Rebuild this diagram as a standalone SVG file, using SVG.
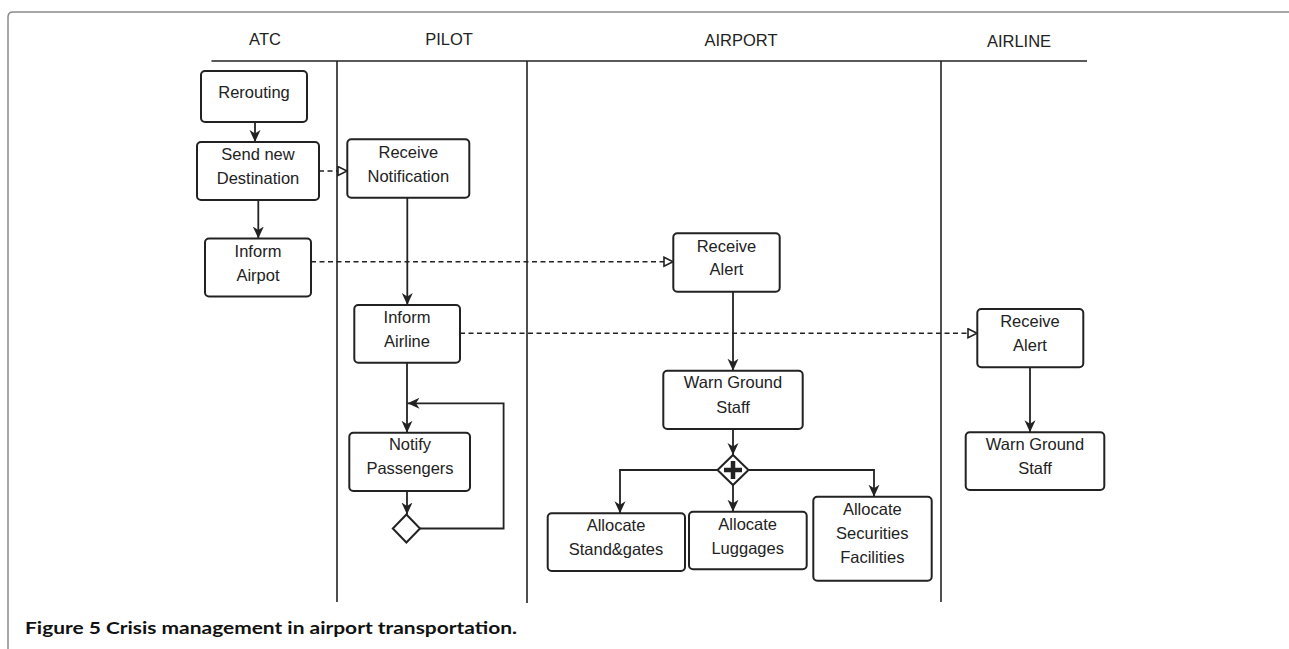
<svg xmlns="http://www.w3.org/2000/svg" width="1289" height="649" viewBox="0 0 1289 649">
<style>
  .frame{fill:none;stroke:#8a8a8a;stroke-width:1.5}
  .lane{fill:none;stroke:#222;stroke-width:1.6}
  .lbl{font-family:"Liberation Sans",Arial,sans-serif;font-size:16.5px;fill:#222;text-anchor:middle}
  .box{fill:#fff;stroke:#222;stroke-width:2}
  .txt{font-family:"Liberation Sans",Arial,sans-serif;font-size:16.5px;fill:#222;text-anchor:middle}
  .flow{fill:none;stroke:#222;stroke-width:1.8}
  .msg{fill:none;stroke:#222;stroke-width:1.6;stroke-dasharray:5 3.5}
  .cap{font-family:Lato,"Open Sans",sans-serif;font-size:17.5px;font-weight:bold;fill:#111}
</style>
<defs>
  <marker id="solid" markerUnits="userSpaceOnUse" markerWidth="14" markerHeight="14" refX="12" refY="6" orient="auto">
    <path d="M0,0.5 L12,6 L0,11.5 L3.5,6 z" fill="#222"/>
  </marker>
  <marker id="open" markerUnits="userSpaceOnUse" markerWidth="12" markerHeight="12" refX="10" refY="5.5" orient="auto">
    <path d="M1,1 L10,5.5 L1,10 z" fill="#fff" stroke="#222" stroke-width="1.6"/>
  </marker>
</defs>
<rect width="1289" height="649" fill="#fff"/>
<path class="frame" d="M8,649 V17 Q8,12 13,12 H1289"/>

<g id="lanes">
  <line class="lane" x1="211.5" y1="61" x2="1087" y2="61"/>
  <line class="lane" x1="337" y1="61" x2="337" y2="602"/>
  <line class="lane" x1="527" y1="61" x2="527" y2="603"/>
  <line class="lane" x1="941" y1="61" x2="941" y2="602"/>
  <text class="lbl" x="265" y="45">ATC</text>
  <text class="lbl" x="449" y="45">PILOT</text>
  <text class="lbl" x="741" y="45.5">AIRPORT</text>
  <text class="lbl" x="1019" y="46.5">AIRLINE</text>
</g>

<g id="connectors">
  <line class="flow" x1="255" y1="122" x2="255" y2="142" marker-end="url(#solid)"/>
  <line class="flow" x1="258.3" y1="200" x2="258.3" y2="238.5" marker-end="url(#solid)"/>
  <line class="msg" x1="319" y1="171" x2="347" y2="171" marker-end="url(#open)"/>
  <line class="msg" x1="311" y1="261.7" x2="673" y2="261.7" marker-end="url(#open)"/>
  <line class="flow" x1="407.3" y1="197.7" x2="407.3" y2="305" marker-end="url(#solid)"/>
  <line class="msg" x1="460" y1="333.3" x2="977" y2="333.3" marker-end="url(#open)"/>
  <line class="flow" x1="407" y1="362.7" x2="407" y2="432.7" marker-end="url(#solid)"/>
  <path class="flow" d="M420,528.5 H503.6 V403.3 H407.5" marker-end="url(#solid)"/>
  <line class="flow" x1="407" y1="491" x2="407" y2="514.5" marker-end="url(#solid)"/>
  <line class="flow" x1="733" y1="291.7" x2="733" y2="370.7" marker-end="url(#solid)"/>
  <line class="flow" x1="733" y1="429" x2="733" y2="455" marker-end="url(#solid)"/>
  <path class="flow" d="M717.5,470 H620 V513.3" marker-end="url(#solid)"/>
  <line class="flow" x1="733" y1="485" x2="733" y2="511.7" marker-end="url(#solid)"/>
  <path class="flow" d="M748.5,470 H874 V496.7" marker-end="url(#solid)"/>
  <line class="flow" x1="1030" y1="367.3" x2="1030" y2="432.3" marker-end="url(#solid)"/>
</g>

<g id="rerouting">
  <rect class="box" x="201" y="71" width="106" height="51" rx="4"/>
  <text class="txt" x="254" y="98">Rerouting</text>
</g>
<g id="send-new-destination">
  <rect class="box" x="197" y="142" width="122" height="58" rx="4"/>
  <text class="txt" x="258" y="160">Send new</text>
  <text class="txt" x="258" y="184">Destination</text>
</g>
<g id="inform-airpot">
  <rect class="box" x="205" y="238.5" width="106" height="58" rx="4"/>
  <text class="txt" x="258" y="256.7">Inform</text>
  <text class="txt" x="258" y="280.7">Airpot</text>
</g>
<g id="receive-notification">
  <rect class="box" x="347.3" y="139.3" width="122" height="58.4" rx="4"/>
  <text class="txt" x="408.3" y="158.3">Receive</text>
  <text class="txt" x="408.3" y="181.7">Notification</text>
</g>
<g id="inform-airline">
  <rect class="box" x="354.3" y="305" width="105.7" height="57.7" rx="4"/>
  <text class="txt" x="407" y="323.3">Inform</text>
  <text class="txt" x="407" y="346.7">Airline</text>
</g>
<g id="notify-passengers">
  <rect class="box" x="349.3" y="432.7" width="120.7" height="58.3" rx="4"/>
  <text class="txt" x="410" y="450">Notify</text>
  <text class="txt" x="410" y="474">Passengers</text>
</g>
<g id="decision">
  <path class="box" d="M406.4,514.5 L420,528.5 L406.4,542.5 L392.8,528.5 Z"/>
</g>
<g id="receive-alert-airport">
  <rect class="box" x="673.3" y="233.3" width="106.4" height="58.4" rx="4"/>
  <text class="txt" x="726.5" y="251.7">Receive</text>
  <text class="txt" x="726.5" y="275">Alert</text>
</g>
<g id="warn-ground-staff-airport">
  <rect class="box" x="663.3" y="370.7" width="139.4" height="58.3" rx="4"/>
  <text class="txt" x="733" y="388.3">Warn Ground</text>
  <text class="txt" x="733" y="412.7">Staff</text>
</g>
<g id="parallel-gateway">
  <path class="box" d="M733,455 L748.5,470 L733,485 L717.5,470 Z"/>
  <path d="M733,461 V479 M724,470 H742" stroke="#222" stroke-width="4.5" fill="none"/>
</g>
<g id="allocate-stand-gates">
  <rect class="box" x="547.7" y="513.3" width="137.3" height="57.7" rx="4"/>
  <text class="txt" x="616" y="530.7">Allocate</text>
  <text class="txt" x="616" y="555">Stand&amp;gates</text>
</g>
<g id="allocate-luggages">
  <rect class="box" x="689" y="511.7" width="117.7" height="57.6" rx="4"/>
  <text class="txt" x="747.7" y="530">Allocate</text>
  <text class="txt" x="747.7" y="554">Luggages</text>
</g>
<g id="allocate-securities">
  <rect class="box" x="813.3" y="496.7" width="118.4" height="84" rx="4"/>
  <text class="txt" x="872.3" y="515">Allocate</text>
  <text class="txt" x="872.3" y="539.3">Securities</text>
  <text class="txt" x="872.3" y="563.3">Facilities</text>
</g>
<g id="receive-alert-airline">
  <rect class="box" x="977.3" y="309" width="106" height="58.3" rx="4"/>
  <text class="txt" x="1030" y="327.3">Receive</text>
  <text class="txt" x="1030" y="350.7">Alert</text>
</g>
<g id="warn-ground-staff-airline">
  <rect class="box" x="965.7" y="432.3" width="138.6" height="57.7" rx="4"/>
  <text class="txt" x="1035" y="450">Warn Ground</text>
  <text class="txt" x="1035" y="474">Staff</text>
</g>

<text class="cap" x="25" y="634" textLength="492" lengthAdjust="spacingAndGlyphs">Figure 5 Crisis management in airport transportation.</text>
</svg>
